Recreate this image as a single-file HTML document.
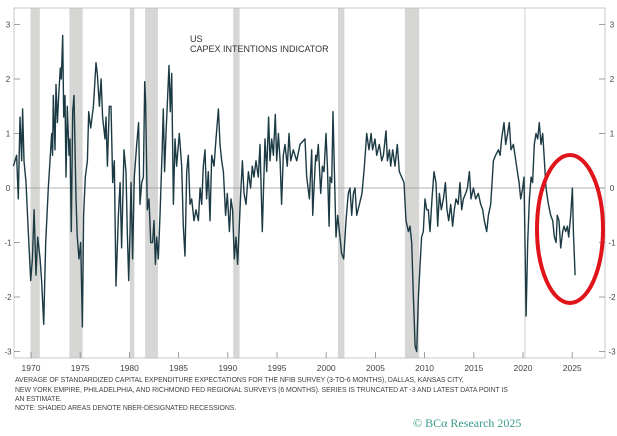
<!DOCTYPE html>
<html><head><meta charset="utf-8"><style>
body{margin:0;background:#fff;width:617px;height:436px;overflow:hidden;font-family:"Liberation Sans",sans-serif}
svg{position:absolute;left:0;top:0}
.note{position:absolute;left:15px;font-size:6.9px;color:#444;letter-spacing:-0.05px;white-space:nowrap}
</style></head><body>
<svg id="chart" width="617" height="436"></svg>
<div class="note" style="top:377px">AVERAGE OF STANDARDIZED CAPITAL EXPENDITURE EXPECTATIONS FOR THE NFIB SURVEY (3-TO-6 MONTHS), DALLAS, KANSAS CITY,</div>
<div class="note" style="top:387px">NEW YORK EMPIRE, PHILADELPHIA, AND RICHMOND FED REGIONAL SURVEYS (6 MONTHS). SERIES IS TRUNCATED AT -3 AND LATEST DATA POINT IS</div>
<div class="note" style="top:396px">AN ESTIMATE.</div>
<div class="note" style="top:405px">NOTE: SHADED AREAS DENOTE NBER-DESIGNATED RECESSIONS.</div>
<div style="position:absolute;left:413px;top:416px;font-family:'Liberation Serif',serif;font-size:12px;color:#3a9a8a">© BCα Research 2025</div>
<script>
const years=[1968.21,1968.54,1968.71,1968.88,1969.05,1969.15,1969.29,1969.49,1969.73,1969.97,1970.14,1970.31,1970.51,1970.68,1970.92,1971.08,1971.29,1971.49,1971.76,1971.93,1972.10,1972.20,1972.27,1972.44,1972.54,1972.68,1972.81,1972.98,1973.08,1973.22,1973.32,1973.46,1973.56,1973.69,1973.86,1973.96,1974.10,1974.24,1974.37,1974.57,1974.71,1974.88,1975.05,1975.22,1975.35,1975.52,1975.73,1975.86,1976.07,1976.34,1976.61,1976.74,1976.95,1977.12,1977.28,1977.52,1977.62,1977.76,1977.96,1978.13,1978.30,1978.47,1978.64,1978.88,1979.05,1979.21,1979.45,1979.65,1979.79,1979.93,1980.06,1980.16,1980.33,1980.50,1980.74,1980.94,1981.08,1981.25,1981.42,1981.55,1981.65,1981.82,1981.99,1982.16,1982.36,1982.50,1982.64,1982.77,1982.94,1983.11,1983.31,1983.45,1983.58,1983.72,1983.89,1984.02,1984.16,1984.30,1984.47,1984.63,1984.80,1985.07,1985.31,1985.48,1985.65,1985.82,1985.99,1986.16,1986.33,1986.57,1986.77,1987.01,1987.18,1987.35,1987.51,1987.68,1987.85,1988.02,1988.19,1988.36,1988.60,1988.80,1989.04,1989.21,1989.38,1989.55,1989.78,1989.95,1990.16,1990.33,1990.49,1990.66,1990.83,1991.00,1991.17,1991.31,1991.48,1991.65,1991.85,1992.09,1992.32,1992.49,1992.66,1992.87,1993.10,1993.27,1993.51,1993.78,1993.95,1994.15,1994.29,1994.46,1994.63,1994.83,1994.97,1995.14,1995.31,1995.47,1995.64,1995.81,1996.05,1996.22,1996.39,1996.66,1997.00,1997.34,1997.85,1998.02,1998.29,1998.53,1998.63,1998.76,1998.93,1999.03,1999.20,1999.44,1999.61,1999.78,1999.98,2000.12,2000.29,2000.39,2000.56,2000.69,2000.83,2001.00,2001.17,2001.34,2001.57,2001.78,2002.01,2002.25,2002.42,2002.59,2002.76,2002.93,2003.10,2003.37,2003.64,2003.88,2004.12,2004.35,2004.56,2004.72,2004.96,2005.13,2005.40,2005.64,2005.81,2006.08,2006.22,2006.42,2006.55,2006.76,2006.99,2007.23,2007.43,2007.67,2007.91,2008.11,2008.35,2008.52,2008.69,2008.86,2009.03,2009.20,2009.37,2009.54,2009.70,2009.87,2010.04,2010.21,2010.38,2010.55,2010.75,2010.96,2011.16,2011.33,2011.50,2011.70,2011.91,2012.11,2012.28,2012.45,2012.65,2012.85,2013.02,2013.19,2013.40,2013.60,2013.77,2013.94,2014.18,2014.35,2014.55,2014.72,2014.96,2015.19,2015.46,2015.70,2015.90,2016.07,2016.31,2016.48,2016.72,2016.99,2017.22,2017.50,2017.67,2017.83,2018.07,2018.24,2018.44,2018.61,2018.78,2019.02,2019.19,2019.43,2019.60,2019.77,2019.97,2020.10,2020.31,2020.48,2020.65,2020.82,2020.98,2021.15,2021.32,2021.49,2021.66,2021.83,2022.00,2022.17,2022.34,2022.58,2022.81,2023.02,2023.19,2023.36,2023.49,2023.66,2023.83,2024.03,2024.17,2024.34,2024.51,2024.64,2024.85,2025.02,2025.12,2025.29];
const values=[0.4,0.6,-0.2,1.3,0.5,1.45,0.5,0.1,-0.8,-1.7,-1.3,-0.4,-1.6,-0.9,-1.3,-1.7,-2.5,-1.0,0.0,0.5,1.0,0.6,1.7,0.7,1.9,1.2,1.7,2.2,2.0,2.8,1.3,1.7,0.2,1.5,0.6,0.9,-0.8,1.4,1.7,-0.2,-0.9,-1.3,-1.0,-2.55,-0.5,0.2,0.5,1.4,1.1,1.5,2.3,2.1,1.5,2.0,1.3,0.9,1.3,0.4,1.5,1.5,0.1,0.5,-1.8,-0.5,0.1,-1.1,0.7,0.3,-0.8,-1.7,-0.8,0.1,-1.3,0.2,0.8,1.2,-0.3,0.1,0.2,1.95,1.6,-0.4,-0.2,-1.0,-1.0,-0.6,-1.4,-0.9,-1.3,-0.5,0.6,1.45,0.3,1.0,1.7,2.25,1.4,2.1,-0.3,0.9,0.4,1.0,0.4,-0.7,-1.25,0.3,0.6,-0.3,-0.2,-0.6,-0.4,-0.6,0.0,-0.3,0.4,0.7,-0.2,0.3,-0.6,0.6,0.4,0.9,1.45,0.8,0.5,0.3,-0.5,-0.1,-0.8,-0.2,-0.4,-1.3,-0.9,-1.4,-0.7,-0.1,0.5,-0.1,-0.3,0.3,0.0,0.4,0.2,0.5,0.2,0.8,-0.8,0.9,0.3,1.3,0.5,0.9,0.6,1.35,0.5,1.0,0.5,-0.3,0.6,0.8,0.4,1.0,0.5,0.7,0.5,0.8,0.9,0.2,-0.2,0.7,-0.5,0.0,0.6,0.5,0.8,-0.1,0.4,0.3,1.0,0.4,-0.7,0.2,0.1,1.4,0.3,-0.9,-0.5,-0.8,-1.2,-1.3,-0.6,-0.1,0.0,-0.5,-0.1,0.0,-0.5,-0.3,-0.1,0.4,1.0,0.7,1.0,0.7,0.9,0.6,0.8,0.5,0.6,1.05,0.5,0.7,0.4,0.7,0.4,0.8,0.3,0.2,0.1,-0.6,-0.8,-0.7,-1.0,-2.0,-2.9,-3.0,-2.0,-1.4,-0.9,-0.8,-0.2,-0.4,-0.4,-0.8,-0.2,0.3,0.1,-0.7,-0.1,-0.4,-0.2,0.1,-0.4,-0.6,-0.3,-0.7,-0.4,-0.2,-0.3,0.1,-0.4,-0.2,-0.1,0.0,0.3,-0.2,0.0,-0.2,-0.1,-0.3,-0.4,-0.6,-0.8,-0.5,-0.3,0.5,0.6,0.7,0.6,0.9,1.2,0.8,1.0,1.2,0.7,0.8,0.6,0.3,0.1,-0.2,0.0,0.2,-2.35,-1.0,-0.2,0.2,0.1,0.8,1.0,0.9,1.2,0.8,1.0,0.5,0.0,-0.3,-0.5,-0.6,-0.9,-1.0,-0.5,-0.6,-1.1,-0.8,-0.7,-0.8,-0.7,-0.9,-0.5,0.0,-0.8,-1.6];
const recStart=[1969.95,1973.9,1980.05,1981.6,1990.55,2001.2,2008.0];
const recEnd=[1970.9,1975.25,1980.5,1982.9,1991.2,2001.85,2009.45];
const xTicks=[1970,1975,1980,1985,1990,1995,2000,2005,2010,2015,2020,2025];
const yTicks=[3,2,1,0,-1,-2,-3];

const NS='http://www.w3.org/2000/svg';
const svg=document.getElementById('chart');
const L=14,R=605,T=8,B=358;
const x=v=>31+(v-1970)*9.84;
const y=v=>188-v*54.5;
function mk(tag,attrs,parent){const e=document.createElementNS(NS,tag);for(const k in attrs)e.setAttribute(k,attrs[k]);(parent||svg).appendChild(e);return e;}

recStart.forEach((s,i)=>{
  const r=mk('rect',{x:x(s),y:T,width:x(recEnd[i])-x(s),height:B-T,fill:'#d6d6d4'});
  
  
});
const cov=mk('line',{x1:x(2020.2),x2:x(2020.2),y1:T,y2:B,stroke:'#d0d0ce','stroke-width':1});



const fr=mk('rect',{x:L,y:T,width:R-L,height:B-T,fill:'none',stroke:'#bbb','stroke-width':0.8});



const zl=mk('line',{x1:L,x2:R,y1:y(0),y2:y(0),stroke:'#999','stroke-width':0.8});



yTicks.forEach(t=>{
  mk('line',{x1:L,x2:L+6,y1:y(t),y2:y(t),stroke:'#888','stroke-width':0.8});
  mk('line',{x1:R-6,x2:R,y1:y(t),y2:y(t),stroke:'#888','stroke-width':0.8});
  const a=mk('text',{x:8,y:y(t)+3,'font-size':8,fill:'#444','text-anchor':'middle'});a.textContent=t;
  
  
  const b=mk('text',{x:612,y:y(t)+3,'font-size':8,fill:'#444','text-anchor':'middle'});b.textContent=t;
  
  
});
xTicks.forEach(t=>{
  mk('line',{x1:x(t),x2:x(t),y1:B,y2:B-6,stroke:'#888','stroke-width':0.8});
  const a=mk('text',{x:x(t),y:371,'font-size':8.5,fill:'#444','text-anchor':'middle'});a.textContent=t;
  
  
});

const d=years.map((yr,i)=>(i?'L':'M')+x(yr).toFixed(1)+' '+y(values[i]).toFixed(1)).join(' ');
const p=mk('path',{d:d,fill:'none',stroke:'#1c3a44','stroke-width':1.4,'stroke-linejoin':'round'});



const t1=mk('text',{x:190,y:42,'font-size':9,fill:'#333'});t1.textContent='US';


const t2=mk('text',{x:190,y:52,'font-size':9,fill:'#333'});t2.textContent='CAPEX INTENTIONS INDICATOR';



const el=mk('ellipse',{cx:570,cy:229,rx:33,ry:74,fill:'none',stroke:'#e0141a','stroke-width':4});


</script>
</body></html>
